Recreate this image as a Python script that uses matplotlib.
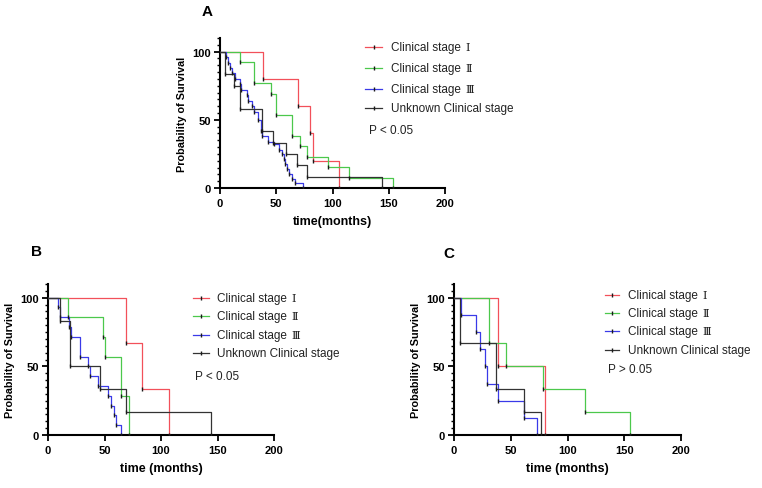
import matplotlib
matplotlib.use("Agg")
import matplotlib.pyplot as plt
from matplotlib.lines import Line2D

plt.rcParams['font.family'] = ['Liberation Sans', 'Noto Sans CJK SC', 'DejaVu Sans']

W, H = 762, 489

# ---------------- data (time in months, survival in %) ----------------
group_names = ['Clinical stage', 'Clinical stage', 'Clinical stage', 'Unknown Clinical stage']
group_numerals = ['Ⅰ', 'Ⅱ', 'Ⅲ', '']
colors = ['#f2505a', '#4cc84c', '#3a3ae8', '#333333']

# Panel A
A_s1_t = [38, 69, 80, 83, 106]
A_s1_v = [80, 60, 40, 20, 0]
A_s2_t = [18, 30, 45, 50, 64, 71, 77, 96, 115, 154]
A_s2_v = [92.3, 76.9, 69.2, 53.8, 38.5, 30.8, 23.1, 15.4, 7.7, 0]
A_s3_t = [5, 7, 9, 11, 13, 18, 19, 24, 25, 28, 30, 34, 36, 37, 43, 48, 52, 55, 56.5, 58, 59.5, 61, 64, 67, 73.5]
A_s3_v = [96, 92, 88, 84, 80, 76, 72, 68, 64, 60, 56, 50, 42, 38, 34, 32, 28, 25, 21, 17.5, 14, 10, 6.5, 4, 0]
A_un_t = [4, 12, 18, 37, 47, 59, 68, 77, 144]
A_un_v = [83.3, 75.0, 58.3, 41.7, 33.3, 25.0, 16.7, 8.3, 0]

# Panel B
B_s1_t = [69, 83, 107]
B_s1_v = [66.7, 33.3, 0]
B_s2_t = [18, 48.7, 50, 65, 72]
B_s2_v = [85.7, 71.4, 57.1, 28.6, 0]
B_s3_t = [9, 11, 19, 20, 28, 35, 37, 44, 53, 56, 58, 60, 65]
B_s3_v = [92.9, 85.7, 78.6, 71.4, 57.1, 50.0, 42.9, 35.7, 28.6, 21.4, 14.3, 7.1, 0]
B_un_t = [11, 19.5, 46, 69, 144]
B_un_v = [83.3, 50.0, 33.3, 16.7, 0]

# Panel C
C_s1_t = [38.5, 80.5]
C_s1_v = [50, 0]
C_s2_t = [31, 46, 78.5, 115, 155]
C_s2_v = [66.7, 50, 33.3, 16.7, 0]
C_s3_t = [6.5, 19.5, 23, 27, 29, 38.5, 62, 73.5]
C_s3_v = [87.5, 75, 62.5, 50, 37.5, 25, 12.5, 0]
C_un_t = [5, 37, 62, 77]
C_un_v = [66.7, 33.3, 16.7, 0]

panels = {
    'A': [(A_s1_t, A_s1_v), (A_s2_t, A_s2_v), (A_s3_t, A_s3_v), (A_un_t, A_un_v)],
    'B': [(B_s1_t, B_s1_v), (B_s2_t, B_s2_v), (B_s3_t, B_s3_v), (B_un_t, B_un_v)],
    'C': [(C_s1_t, C_s1_v), (C_s2_t, C_s2_v), (C_s3_t, C_s3_v), (C_un_t, C_un_v)],
}
p_texts = {'A': 'P < 0.05', 'B': 'P < 0.05', 'C': 'P > 0.05'}
x_labels = {'A': 'time(months)', 'B': 'time (months)', 'C': 'time (months)'}
x_ticks = [0, 50, 100, 150, 200]
y_ticks = [0, 50, 100]

# ---------------- layout (pixels) ----------------
axes_px = {'A': (220, 189, 225, 150), 'B': (48, 436, 226, 151), 'C': (454, 436, 227, 151)}
title_px = {'A': (207, 12), 'B': (37, 252), 'C': (449, 254)}
legend_px = {
    'A': dict(x0=365, x1=382, xt=391, rows=[48, 69, 90, 109], px=369, py=131),
    'B': dict(x0=193, x1=209, xt=217, rows=[299, 317, 336, 354], px=195, py=377),
    'C': dict(x0=605, x1=619, xt=628, rows=[296, 314, 332, 351], px=608, py=370),
}

fig = plt.figure(figsize=(W / 100, H / 100), dpi=100)
renderer = fig.canvas.get_renderer()


def fx(p):
    return p / W


def fy(p):
    return 1 - p / H


for key in ['A', 'B', 'C']:
    l, b, w, h = axes_px[key]
    ax = fig.add_axes([fx(l), fy(b), w / W, h / H])
    for (t, v), c in zip(panels[key], colors):
        xs = [0] + list(t)
        ys = [100] + list(v)
        ax.plot(xs, ys, drawstyle='steps-post', color=c, lw=0.9, zorder=3)
        ax.plot(t, v, ls='none', marker='|', ms=3.4, mew=1.0, color='#1a1a1a', zorder=4)
    ax.set_xlim(0, 200)
    ax.set_ylim(0, 110)
    ax.set_xticks(x_ticks)
    ax.set_yticks(y_ticks)
    ax.set_yticks(range(0, 111, 5), minor=True)
    ax.spines['top'].set_visible(False)
    ax.spines['right'].set_visible(False)
    for s in ['left', 'bottom']:
        ax.spines[s].set_linewidth(1.5)
    ax.tick_params(axis='both', which='major', length=4, width=1.3, labelsize=8, pad=2.5)
    ax.tick_params(axis='x', which='major', pad=3.5)
    ax.tick_params(axis='y', which='minor', length=2.5, width=1.0)
    for lab in ax.get_xticklabels() + ax.get_yticklabels():
        lab.set_fontweight('bold')
    ax.set_xlabel(x_labels[key], fontsize=9, fontweight='bold', labelpad=5)
    ax.set_ylabel('Probability of Survival', fontsize=7.8, fontweight='bold', labelpad=4)
    ax.patch.set_alpha(0)

    tx, ty = title_px[key]
    fig.text(fx(tx), fy(ty), key, fontsize=11, fontweight='bold', ha='center', va='center')

    lg = legend_px[key]
    for name, num, c, ry in zip(group_names, group_numerals, colors, lg['rows']):
        fig.add_artist(Line2D([fx(lg['x0']), fx(lg['x1'])], [fy(ry), fy(ry)],
                              transform=fig.transFigure, color=c, lw=0.9))
        fig.add_artist(Line2D([fx((lg['x0'] + lg['x1']) / 2)], [fy(ry)],
                              transform=fig.transFigure, ls='none', marker='|',
                              ms=3, mew=1.0, color='#1a1a1a'))
        t = fig.text(fx(lg['xt']), fy(ry), name, fontsize=8.5, ha='left', va='center',
                     color='#222222')
        if num:
            bb = t.get_window_extent(renderer=renderer)
            fig.text(fx(bb.x1 + 5), fy(ry), num, fontsize=8, ha='left', va='center',
                     color='#222222', family=['DejaVu Serif', 'Noto Sans CJK SC'])
    fig.text(fx(lg['px']), fy(lg['py']), p_texts[key], fontsize=8.5, ha='left',
             va='center', color='#222222')

fig.savefig('out.png', dpi=100)
